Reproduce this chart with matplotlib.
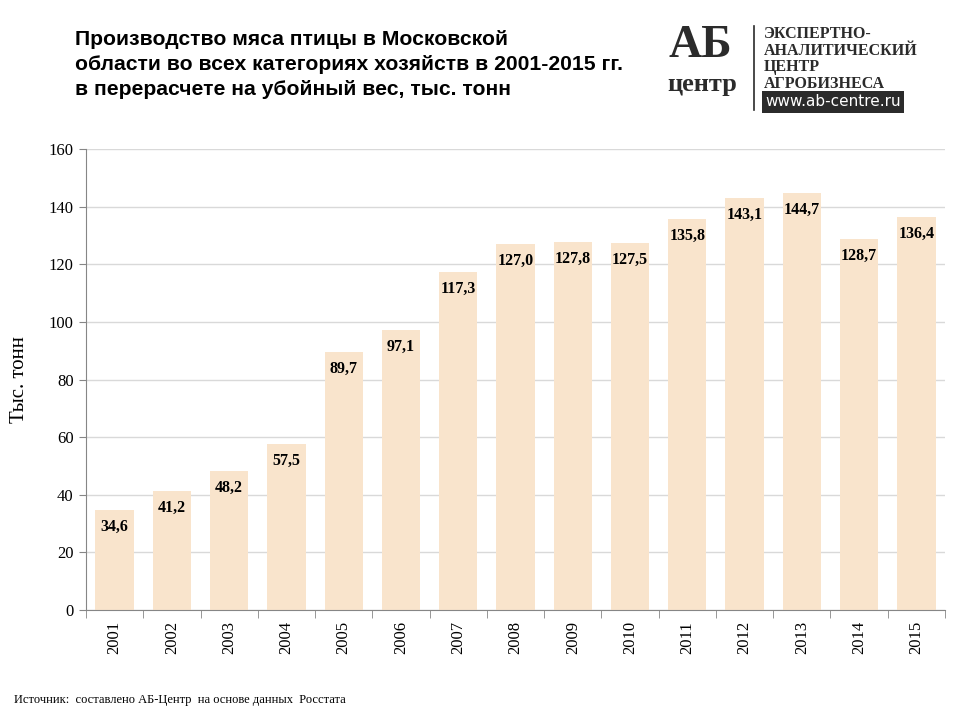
import matplotlib

matplotlib.use("Agg")
import matplotlib.pyplot as plt
import numpy as np

years = [str(y) for y in range(2001, 2016)]
values = [34.6, 41.2, 48.2, 57.5, 89.7, 97.1, 117.3, 127.0, 127.8, 127.5,
          135.8, 143.1, 144.7, 128.7, 136.4]
y_ticks = [0, 20, 40, 60, 80, 100, 120, 140, 160]

title = ("Производство мяса птицы в Московской\n"
         "области во всех категориях хозяйств в 2001-2015 гг.\n"
         "в перерасчете на убойный вес, тыс. тонн")
source = "Источник:  составлено АБ-Центр  на основе данных  Росстата"

bar_color = "#F9E4CC"
serif = "Liberation Serif"
sans = "Liberation Sans"
ink = "#2b2b2b"

fig = plt.figure(figsize=(9.6, 7.2), dpi=100)
ax = fig.add_axes([86 / 960, 1 - 610 / 720, (945 - 86) / 960, (610 - 149) / 720])

x = np.arange(len(years))
ax.bar(x, values, width=0.67, color=bar_color, zorder=2)
for xi, v in zip(x, values):
    ax.annotate(f"{v:.1f}".replace(".", ","), (xi, v), xytext=(0, -17),
                textcoords="offset pixels", ha="center", va="center",
                fontsize=11.5, fontweight="bold", family=serif, zorder=3)

ax.set_xlim(-0.5, len(years) - 0.5)
ax.set_ylim(0, 160)
ax.set_yticks(y_ticks)
ax.set_yticklabels([str(t) for t in y_ticks], family=serif, fontsize=12)
ax.yaxis.grid(True, color="#D9D9D9", lw=1, zorder=0)
ax.set_axisbelow(True)

ax.set_xticks(x)
ax.set_xticklabels(years, rotation=90, family=serif, fontsize=12)
ax.tick_params(axis="x", length=0, pad=8)
ax.set_xticks(np.arange(-0.5, len(years)), minor=True)
ax.tick_params(axis="x", which="minor", length=6, color="#868686", direction="out")
ax.tick_params(axis="y", length=5, color="#868686", pad=4)

for side in ("top", "right"):
    ax.spines[side].set_visible(False)
for side in ("left", "bottom"):
    ax.spines[side].set_color("#868686")

ax.set_ylabel("Тыс. тонн", family=serif, fontsize=15, labelpad=14)

fig.text(75 / 960, 1 - 30 / 720, title, ha="left", va="top", family=sans,
         fontsize=15.2, fontweight="bold", linespacing=1.4)

# logo block
fig.text(700 / 960, 1 - 46 / 720, "АБ", ha="center", va="center", family=serif,
         fontsize=33, fontweight="bold", color=ink)
fig.text(702 / 960, 1 - 84 / 720, "центр", ha="center", va="center", family=serif,
         fontsize=19, fontweight="bold", color=ink)
fig.add_artist(plt.Line2D([754 / 960, 754 / 960], [1 - 26 / 720, 1 - 110 / 720],
                          color=ink, lw=1.2))
fig.text(764 / 960, 1 - 26 / 720, "ЭКСПЕРТНО-\nАНАЛИТИЧЕСКИЙ\nЦЕНТР\nАГРОБИЗНЕСА",
         ha="left", va="top", family=serif, fontsize=11.5, fontweight="bold",
         color=ink, linespacing=1.05)
fig.text(765 / 960, 1 - 102 / 720, "www.ab-centre.ru", ha="left", va="center",
         family="DejaVu Sans", fontsize=11, color="white",
         bbox=dict(boxstyle="square,pad=0.2", fc=ink, ec="none"))

fig.text(14 / 960, 1 - 700 / 720, source, ha="left", va="center", family=serif,
         fontsize=9)

fig.savefig("out.png", dpi=100)
